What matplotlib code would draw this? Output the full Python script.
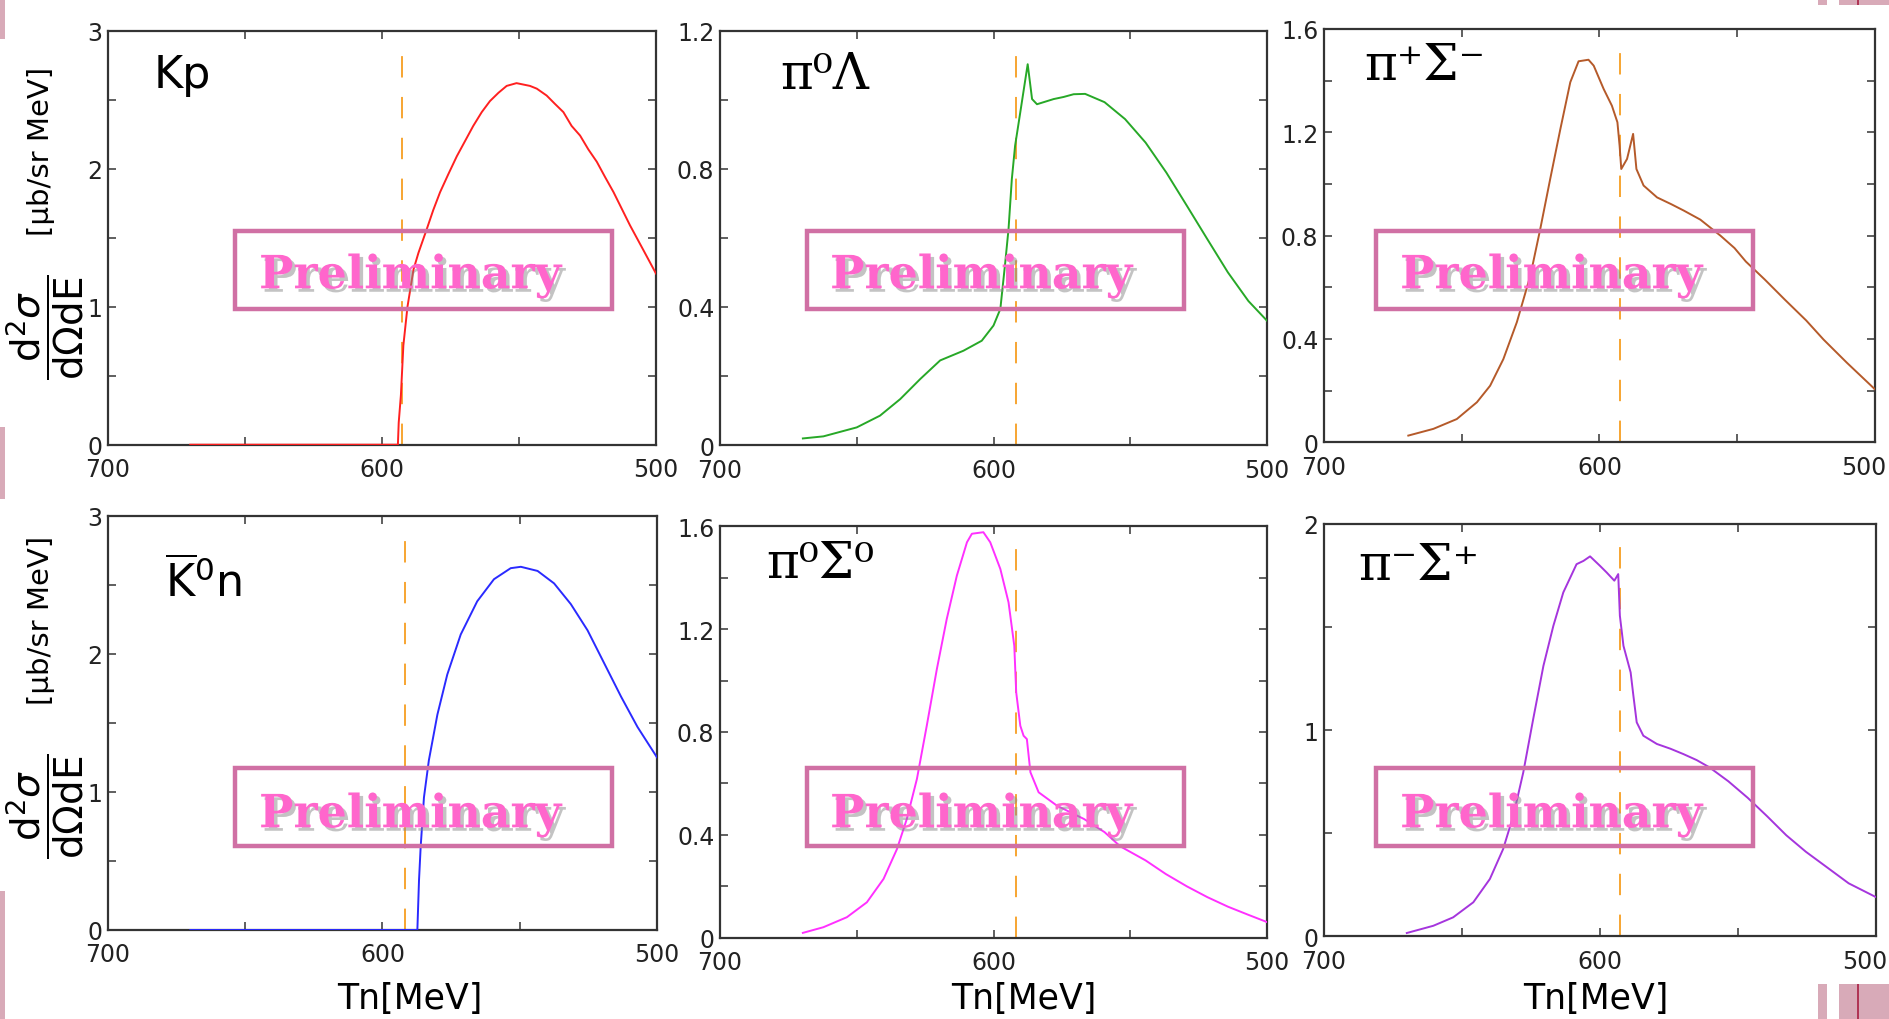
import matplotlib
matplotlib.use('Agg')
import matplotlib.pyplot as plt
from matplotlib.patches import Rectangle
from matplotlib.transforms import ScaledTranslation
import matplotlib.patheffects as pe

W, H = 1889, 1020

# ── Data: Tn [MeV] vs d2sigma/dOmega dE [ub/sr MeV]
kp_T = [670, 594.2, 593.9, 593.1, 592.2, 590.7, 588.5, 586.7, 583.7, 581.3, 578.8, 575.8,
        572.7, 569.7, 566.7, 563.6, 560.6, 557.5, 554.5, 550.9, 546.0, 543.5, 539.9,
        536.9, 533.8, 530.8, 527.7, 524.7, 521.6, 518.6, 515.5, 512.5, 509.5, 504.6, 500]
kp_y = [0, 0, 0.16, 0.36, 0.72, 1.00, 1.27, 1.39, 1.56, 1.70, 1.83, 1.96,
        2.09, 2.20, 2.31, 2.41, 2.49, 2.55, 2.60, 2.62, 2.60, 2.58, 2.53,
        2.47, 2.41, 2.31, 2.24, 2.14, 2.05, 1.94, 1.83, 1.71, 1.59, 1.41, 1.24]

pi0lam_T = [669.7, 662.2, 650, 641.5, 634.1, 626.8, 619.5, 611.0, 604.3, 600, 597.5,
            595.7, 594.5, 593.3, 592.1, 590.2, 587.5, 585.9, 584.1, 578.0, 574.4, 570.7,
            566.5, 559.4, 551.9, 544.4, 536.8, 529.3, 521.8, 514.3, 506.8, 500]
pi0lam_y = [0.019, 0.025, 0.051, 0.085, 0.133, 0.191, 0.245, 0.273, 0.302, 0.346, 0.394,
            0.529, 0.626, 0.770, 0.867, 0.964, 1.103, 1.002, 0.987, 1.002, 1.008, 1.016,
            1.017, 0.993, 0.944, 0.876, 0.789, 0.693, 0.596, 0.500, 0.417, 0.36]

pipsigm_T = [669.4, 660.3, 651.8, 644.5, 639.7, 634.9, 630.0, 625.1, 621.5, 617.9, 614.2,
             610.6, 607.6, 604.0, 602.1, 598.5, 595.5, 593.5, 592.7, 592.1, 590.0, 587.8,
             586.6, 584.0, 579.1, 574.0, 569.4, 563.4, 556.1, 551.0, 546.9, 540.0, 532.8,
             525.0, 518.7, 510.2, 500]
pipsigm_y = [0.026, 0.052, 0.090, 0.155, 0.219, 0.322, 0.465, 0.645, 0.826, 1.019, 1.213,
             1.394, 1.475, 1.481, 1.458, 1.368, 1.303, 1.239, 1.148, 1.058, 1.097, 1.194,
             1.058, 0.994, 0.948, 0.922, 0.897, 0.862, 0.800, 0.752, 0.70, 0.630, 0.553,
             0.472, 0.398, 0.308, 0.205]

k0n_T = [670, 587.3, 586.7, 586.1, 584.9, 583.1, 580.0, 576.4, 571.5, 565.5, 559.4,
         553.3, 549.6, 543.5, 537.5, 531.4, 525.3, 519.2, 513.1, 507.1, 500]
k0n_y = [0, 0, 0.36, 0.60, 0.96, 1.23, 1.56, 1.85, 2.14, 2.38, 2.54,
         2.62, 2.63, 2.60, 2.51, 2.36, 2.17, 1.93, 1.69, 1.47, 1.25]

pi0sig0_T = [669.7, 662.2, 653.6, 646.3, 640.2, 635.3, 631.7, 628.0, 624.4, 620.7, 617.1,
             613.4, 609.7, 607.9, 603.7, 601.2, 597.5, 594.5, 592.4, 591.7, 590.2, 589.0,
             587.8, 586.5, 583.5, 576.8, 566.9, 559.4, 553.7, 544.4, 537.0, 529.3, 521.8,
             514.3, 507.0, 500]
pi0sig0_y = [0.018, 0.040, 0.079, 0.137, 0.228, 0.344, 0.461, 0.617, 0.824, 1.045, 1.239,
             1.408, 1.538, 1.571, 1.577, 1.538, 1.434, 1.304, 1.135, 0.954, 0.824, 0.785,
             0.772, 0.643, 0.565, 0.513, 0.461, 0.41, 0.355, 0.30, 0.247, 0.199, 0.157,
             0.120, 0.089, 0.06]

pimsigp_T = [670.0, 660.4, 653.2, 645.9, 639.9, 635.1, 631.4, 627.8, 624.2, 620.5, 616.9,
             613.3, 608.5, 606.0, 603.6, 600.0, 597.6, 594.8, 593.4, 592.8, 591.5, 588.9,
             587.9, 586.7, 584.3, 579.4, 574.5, 569.8, 565.0, 560.4, 553.5, 546.5, 539.5,
             532.5, 525.4, 518.3, 509.9, 500]
pimsigp_y = [0.016, 0.051, 0.092, 0.165, 0.278, 0.423, 0.585, 0.795, 1.054, 1.312, 1.506,
             1.668, 1.805, 1.821, 1.843, 1.797, 1.765, 1.725, 1.757, 1.555, 1.409, 1.280,
             1.167, 1.038, 0.973, 0.933, 0.910, 0.884, 0.855, 0.82, 0.752, 0.672, 0.583,
             0.490, 0.410, 0.340, 0.257, 0.19]

thresholds = [592.8, 591.8, 592.5, 591.7, 591.8, 592.8]

panel_names = ['Kp', 'π⁰Λ', 'π⁺Σ⁻',
               r'$\overline{\mathrm{K}}{}^{\mathrm{0}}\mathrm{n}$',
               'π⁰Σ⁰', 'π⁻Σ⁺']
line_colors = ['#ff2020', '#27a827', '#b55a2a', '#2a2aff', '#ff30ff', '#a535dd']

y_max = [3, 1.2, 1.6, 3, 1.6, 2]
y_ticks = [[0, 0.5, 1, 1.5, 2, 2.5, 3],
           [0, 0.2, 0.4, 0.6, 0.8, 1.0, 1.2],
           [0, 0.2, 0.4, 0.6, 0.8, 1.0, 1.2, 1.4, 1.6],
           [0, 0.5, 1, 1.5, 2, 2.5, 3],
           [0, 0.2, 0.4, 0.6, 0.8, 1.0, 1.2, 1.4, 1.6],
           [0, 0.5, 1, 1.5, 2]]
y_ticklabels = [['0', '', '1', '', '2', '', '3'],
                ['0', '', '0.4', '', '0.8', '', '1.2'],
                ['0', '', '0.4', '', '0.8', '', '1.2', '', '1.6'],
                ['0', '', '1', '', '2', '', '3'],
                ['0', '', '0.4', '', '0.8', '', '1.2', '', '1.6'],
                ['0', '', '1', '', '2']]
x_ticks = [700, 650, 600, 550, 500]
x_ticklabels = ['700', '', '600', '', '500']

series = [(kp_T, kp_y), (pi0lam_T, pi0lam_y), (pipsigm_T, pipsigm_y),
          (k0n_T, k0n_y), (pi0sig0_T, pi0sig0_y), (pimsigp_T, pimsigp_y)]

# axes boxes in pixels: left, top, right, bottom
boxes_px = [(108, 31.7, 656, 445.7), (720, 31.7, 1267, 446), (1324, 30, 1875, 443.3),
            (108, 516.7, 657, 931), (720, 527.3, 1267, 938.5), (1324, 525, 1876, 937.3)]
label_pos = [(0.084, 0.894), (0.111, 0.894), (0.073, 0.913),
             (0.104, 0.843), (0.085, 0.911), (0.062, 0.900)]

fig = plt.figure(figsize=(W / 100, H / 100), dpi=100)
fig.patch.set_facecolor('white')

for i in range(6):
    l, t, r, b = boxes_px[i]
    ax = fig.add_axes([l / W, 1 - b / H, (r - l) / W, (b - t) / H])
    T, y = series[i]
    ax.plot(T, y, color=line_colors[i], lw=1.4, zorder=3, solid_joinstyle='round')
    ax.axvline(thresholds[i], ymin=0, ymax=0.984, color='#f7a531', lw=1.4,
               dashes=(11, 10), zorder=2)
    ax.set_xlim(700, 500)
    ax.set_ylim(0, y_max[i])
    ax.set_xticks(x_ticks)
    ax.set_xticklabels(x_ticklabels)
    ax.set_yticks(y_ticks[i])
    ax.set_yticklabels(y_ticklabels[i])
    ax.tick_params(direction='in', top=True, right=True, length=6, width=1.2,
                   labelsize=17, color='#444444', labelcolor='#222222')
    ax.tick_params(axis='x', pad=9)
    ax.tick_params(axis='y', pad=4)
    for s in ax.spines.values():
        s.set_linewidth(1.6)
        s.set_color('#333333')
    if i in (2, 5):
        # right column: keep the last label inside the picture
        lab = ax.get_xticklabels()[-1]
        lab.set_transform(lab.get_transform() + ScaledTranslation(-0.11, 0, fig.dpi_scale_trans))
    if i in (0, 3):
        ax.text(label_pos[i][0], label_pos[i][1], panel_names[i], transform=ax.transAxes,
                fontsize=32, va='center', ha='left', color='black',
                math_fontfamily='dejavusans')
    else:
        ax.text(label_pos[i][0], label_pos[i][1], panel_names[i], transform=ax.transAxes,
                fontsize=36, va='center', ha='left', color='black',
                family='DejaVu Serif')

# ── y axis labels (left column only)
for yc_unit, yc_frac in [(151, 327), (620, 806)]:
    fig.text(41 / W, 1 - yc_unit / H, '[μb/sr MeV]', rotation=90, fontsize=21,
             ha='center', va='center')
    fig.text(45 / W, 1 - yc_frac / H,
             r'$\dfrac{\mathrm{d}^2\sigma}{\mathrm{d}\Omega\mathrm{dE}}$',
             rotation=90, fontsize=28, ha='center', va='center',
             math_fontfamily='dejavusans')

# ── x axis labels (bottom row)
for xc in [409.6, 1024, 1596]:
    fig.text(xc / W, 1 - 998.7 / H, 'Tn[MeV]', fontsize=25, ha='center', va='center')

# ── "Preliminary" stamps
stamp_x = [235, 806.7, 1375.8]
text_x = [259, 830, 1400]
for top, bot, base in [(231.7, 309.5, 289.3), (769.3, 847, 828.3)]:
    for bx, tx in zip(stamp_x, text_x):
        fig.add_artist(Rectangle((bx / W, 1 - bot / H), 377 / W, (bot - top) / H,
                                 transform=fig.transFigure, fill=False,
                                 edgecolor='#d070a4', lw=3.2, zorder=5))
        fig.text(tx / W, 1 - base / H, 'Preliminary', fontsize=33, fontweight='bold',
                 family='DejaVu Serif', color='#ff66cc', va='baseline', ha='left',
                 zorder=6,
                 path_effects=[pe.withSimplePatchShadow(offset=(2.5, -2.5),
                                                        shadow_rgbFace='#888888',
                                                        alpha=0.5)])

# ── slide decoration strips
deco = '#d8aab8'
for y0, y1 in [(0, 40), (428, 500), (892, 1020)]:
    fig.add_artist(Rectangle((0, 1 - y1 / H), 5 / W, (y1 - y0) / H,
                             transform=fig.transFigure, color=deco, lw=0, zorder=1))
for y0, y1 in [(0, 6), (985, 1020)]:
    for x0, x1 in [(1818, 1827), (1839, 1889)]:
        fig.add_artist(Rectangle((x0 / W, 1 - y1 / H), (x1 - x0) / W, (y1 - y0) / H,
                                 transform=fig.transFigure, color=deco, lw=0, zorder=1))
    fig.add_artist(Rectangle((1857 / W, 1 - y1 / H), 2 / W, (y1 - y0) / H,
                             transform=fig.transFigure, color='#b03555', lw=0, zorder=1))

fig.savefig('out.png', dpi=100)
